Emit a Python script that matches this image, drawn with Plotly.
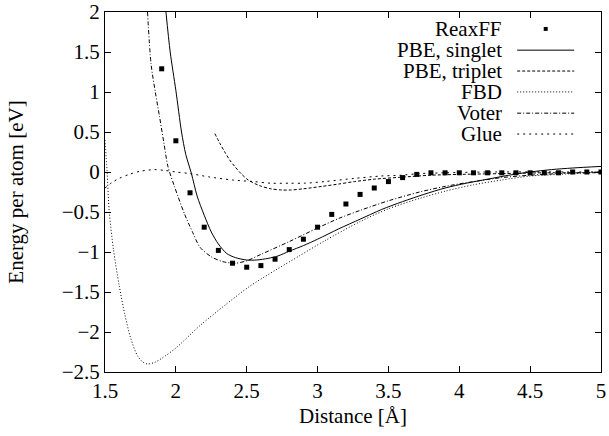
import plotly.graph_objects as go

# ReaxFF points
reax_x = [1.9, 2.0, 2.1, 2.2, 2.3, 2.4, 2.5, 2.6, 2.7, 2.8, 2.9, 3.0, 3.1, 3.2, 3.3, 3.4,
          3.5, 3.6, 3.7, 3.8, 3.9, 4.0, 4.1, 4.2, 4.3, 4.4, 4.5, 4.6, 4.7, 4.8, 4.9, 5.0]
reax_y = [1.29, 0.39, -0.26, -0.69, -0.98, -1.14, -1.19, -1.17, -1.09, -0.97, -0.84, -0.69,
          -0.53, -0.40, -0.28, -0.20, -0.12, -0.07, -0.03, -0.01, -0.01, -0.01, -0.01, -0.01,
          -0.01, -0.01, -0.01, -0.01, -0.01, 0.0, 0.0, 0.0]

# PBE singlet
sing_x = [1.93, 1.96, 2.0, 2.04, 2.07, 2.11, 2.15, 2.2, 2.25, 2.3, 2.36, 2.42, 2.5, 2.57,
          2.65, 2.72, 2.8, 2.9, 3.0, 3.15, 3.3, 3.45, 3.6, 3.75, 3.9, 4.05, 4.2, 4.35, 4.5,
          4.65, 4.8, 5.0]
sing_y = [2.0, 1.5, 1.02, 0.5, 0.22, -0.02, -0.3, -0.54, -0.75, -0.9, -1.02, -1.07, -1.1,
          -1.1, -1.08, -1.05, -0.99, -0.92, -0.84, -0.71, -0.59, -0.47, -0.37, -0.28, -0.2,
          -0.14, -0.09, -0.04, 0.0, 0.03, 0.05, 0.07]

# PBE triplet
trip_x = [2.275, 2.31, 2.345, 2.38, 2.415, 2.46, 2.51, 2.59, 2.67, 2.75, 2.81, 2.9, 3.03,
          3.15, 3.26, 3.4, 3.59, 3.8, 4.0, 4.3, 4.6, 5.0]
trip_y = [0.48, 0.36, 0.25, 0.15, 0.07, -0.02, -0.1, -0.17, -0.21, -0.225, -0.225, -0.21,
          -0.18, -0.15, -0.12, -0.09, -0.065, -0.04, -0.03, -0.02, -0.01, -0.01]

# FBD
fbd_x = [1.5, 1.515, 1.53, 1.56, 1.6, 1.64, 1.68, 1.73, 1.77, 1.8, 1.85, 1.9, 2.0, 2.17,
         2.35, 2.52, 2.7, 2.87, 3.05, 3.3, 3.5, 3.72, 3.9, 4.1, 4.3, 4.5, 4.7, 5.0]
fbd_y = [0.4, 0.0, -0.5, -0.97, -1.42, -1.78, -2.07, -2.3, -2.38, -2.4, -2.38, -2.33, -2.2,
         -1.92, -1.66, -1.43, -1.23, -1.05, -0.86, -0.62, -0.46, -0.33, -0.24, -0.16, -0.1,
         -0.05, -0.03, 0.0]

# Voter
vot_x = [1.8, 1.825, 1.855, 1.885, 1.915, 1.944, 1.99, 2.06, 2.12, 2.17, 2.25, 2.33, 2.42,
         2.5, 2.6, 2.8, 3.0, 3.15, 3.3, 3.5, 3.72, 3.9, 4.1, 4.3, 4.5, 4.7, 5.0]
vot_y = [2.0, 1.35, 1.0, 0.69, 0.37, 0.07, -0.18, -0.52, -0.76, -0.94, -1.06, -1.12, -1.14,
         -1.11, -1.03, -0.87, -0.7, -0.58, -0.48, -0.36, -0.25, -0.18, -0.12, -0.07, -0.04,
         -0.02, 0.0]

# Glue
glue_x = [1.5, 1.55, 1.6, 1.67, 1.75, 1.85, 1.92, 2.0, 2.1, 2.23, 2.4, 2.55, 2.67, 2.8,
          2.91, 3.05, 3.26, 3.45, 3.59, 3.72, 3.9, 4.2, 5.0]
glue_y = [-0.2, -0.13, -0.08, -0.03, 0.01, 0.03, 0.02, 0.0, -0.02, -0.06, -0.1, -0.12, -0.14,
          -0.14, -0.14, -0.12, -0.08, -0.05, -0.04, -0.02, -0.01, 0.0, 0.0]

FONT = "Liberation Serif"
FS = 21

fig = go.Figure()
fig.add_trace(go.Scatter(x=reax_x, y=reax_y, mode='markers', name='ReaxFF',
                         marker=dict(symbol='square', size=5, color='black')))

lines = [
    ('PBE, singlet', sing_x, sing_y, 'solid'),
    ('PBE, triplet', trip_x, trip_y, '3px,2px'),
    ('FBD', fbd_x, fbd_y, '1px,2px'),
    ('Voter', vot_x, vot_y, '4px,2px,1px,2px'),
    ('Glue', glue_x, glue_y, '2px,4px'),
]
for name, xs, ys, dash in lines:
    fig.add_trace(go.Scatter(x=xs, y=ys, mode='lines', name=name,
                             line=dict(color='black', width=1, dash=dash,
                                       shape='spline', smoothing=0.8)))

# gnuplot-style key: text right-aligned, sample on the right
rows = [0.953, 0.894, 0.836, 0.778, 0.719, 0.661]
labels = ['ReaxFF'] + [l[0] for l in lines]
for i, (lab, yy) in enumerate(zip(labels, rows)):
    fig.add_annotation(x=0.805, y=yy, xref='paper', yref='paper', text=lab,
                       showarrow=False, xanchor='right', yanchor='middle',
                       font=dict(family=FONT, size=FS, color='black'))
    if i == 0:
        fig.add_shape(type='rect', xref='paper', yref='paper',
                      x0=0.8845, x1=0.8925, y0=yy - 0.0055, y1=yy + 0.0055,
                      fillcolor='black', line=dict(width=0))
    else:
        fig.add_shape(type='line', xref='paper', yref='paper',
                      x0=0.831, x1=0.946, y0=yy, y1=yy,
                      line=dict(color='black', width=1, dash=lines[i - 1][3]))

axis = dict(showline=True, mirror='ticks', linecolor='black', linewidth=1,
            ticks='inside', ticklen=6, tickcolor='black', showgrid=False,
            zeroline=False, automargin=False,
            tickfont=dict(family=FONT, size=FS, color='black'))

fig.update_xaxes(range=[1.5, 5], dtick=0.5, tick0=1.5,
                 title=dict(text='Distance [Å]', standoff=6,
                            font=dict(family=FONT, size=FS, color='black')), **axis)
fig.update_yaxes(range=[-2.5, 2], dtick=0.5, tick0=-2.5,
                 title=dict(text='Energy per atom [eV]', standoff=32,
                            font=dict(family=FONT, size=FS, color='black')), **axis)

fig.update_layout(
    template='none',
    width=609, height=436,
    margin=dict(l=105, r=8, t=12, b=64),
    plot_bgcolor='white', paper_bgcolor='white',
    showlegend=False,
    font=dict(family=FONT, color='black'),
)

fig.write_html("out.html", config={'displayModeBar': False},
               post_script="document.body.style.margin='0';")
